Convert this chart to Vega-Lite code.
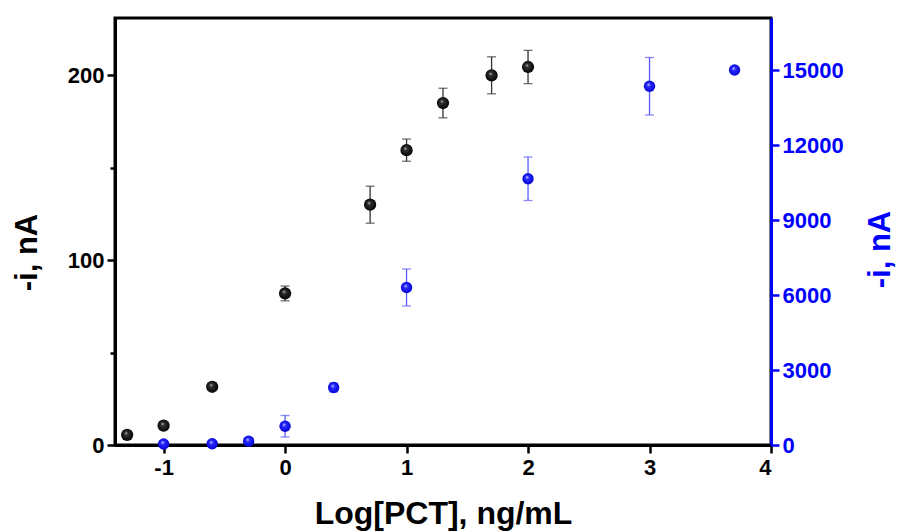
{
  "$schema": "https://vega.github.io/schema/vega-lite/v6.json",
  "width": 656,
  "height": 427,
  "autosize": {"type": "none"},
  "padding": {"left": 115, "top": 18, "right": 127, "bottom": 86},
  "background": "white",
  "config": {
    "view": {"stroke": "black", "strokeWidth": 3},
    "font": "Liberation Sans",
    "axis": {
      "labelFont": "Liberation Sans",
      "titleFont": "Liberation Sans",
      "labelFontWeight": "bold",
      "titleFontWeight": "bold",
      "grid": false,
      "domainWidth": 3,
      "tickWidth": 2.5,
      "tickSize": 8,
      "labelFontSize": 22,
      "labelPadding": 3,
      "domainColor": "black",
      "tickColor": "black",
      "labelColor": "black",
      "titleColor": "black"
    }
  },
  "datasets": {
    "black": [
      {"x": -1.3, "i": 5.5, "lo": 5.5, "hi": 5.5},
      {"x": -1.0, "i": 10.5, "lo": 9.5, "hi": 11.5},
      {"x": -0.6, "i": 31.5, "lo": 29.5, "hi": 33.5},
      {"x": 0.0, "i": 82, "lo": 78, "hi": 86},
      {"x": 0.7, "i": 130, "lo": 120, "hi": 140},
      {"x": 1.0, "i": 159.5, "lo": 153.5, "hi": 165.5},
      {"x": 1.3, "i": 185, "lo": 177, "hi": 193},
      {"x": 1.7, "i": 200, "lo": 190, "hi": 210},
      {"x": 2.0, "i": 204.5, "lo": 195.5, "hi": 213.5}
    ],
    "blue": [
      {"x": -1.0, "i": 40, "lo": 40, "hi": 40},
      {"x": -0.6, "i": 50, "lo": 50, "hi": 50},
      {"x": -0.3, "i": 150, "lo": 150, "hi": 150},
      {"x": 0.0, "i": 750, "lo": 320, "hi": 1180},
      {"x": 0.4, "i": 2300, "lo": 2120, "hi": 2480},
      {"x": 1.0, "i": 6300, "lo": 5560, "hi": 7040},
      {"x": 2.0, "i": 10650, "lo": 9780, "hi": 11520},
      {"x": 3.0, "i": 14350, "lo": 13200, "hi": 15500},
      {"x": 3.7, "i": 15000, "lo": 15000, "hi": 15000}
    ]
  },
  "layer": [
    {
      "data": {"name": "black"},
      "encoding": {
        "x": {
          "field": "x", "type": "quantitative",
          "scale": {"domain": [-1.4, 4], "nice": false, "zero": false},
          "axis": {
            "values": [-1, 0, 1, 2, 3, 4],
            "labelExpr": "'' + datum.value",
            "title": "Log[PCT], ng/mL",
            "titleFontSize": 32,
            "titleBaseline": "middle",
            "titleX": 328,
            "titleY": 68,
            "labelPadding": 4
          }
        }
      },
      "layer": [
        {
          "mark": {"type": "rule", "color": "#333333", "strokeWidth": 1.3},
          "encoding": {
            "y": {
              "field": "lo", "type": "quantitative",
              "scale": {"domain": [0, 231], "nice": false, "zero": false},
              "axis": {
                "orient": "left",
                "values": [0, 50, 100, 150, 200],
                "labelExpr": "datum.value % 100 == 0 ? datum.label : ''",
                "tickSize": {"condition": {"test": "datum.value % 100 != 0", "value": 5}, "value": 8},
                "title": "-i, nA",
                "titleFontSize": 31,
                "titleAngle": -90,
                "titleBaseline": "middle",
                "titleX": -88,
                "titleY": 234
              }
            },
            "y2": {"field": "hi"}
          }
        },
        {
          "mark": {"type": "tick", "orient": "horizontal", "color": "#333333", "size": 9, "thickness": 1.3},
          "encoding": {"y": {"field": "lo", "type": "quantitative"}}
        },
        {
          "mark": {"type": "tick", "orient": "horizontal", "color": "#333333", "size": 9, "thickness": 1.3},
          "encoding": {"y": {"field": "hi", "type": "quantitative"}}
        },
        {
          "mark": {
            "type": "point", "filled": true, "size": 150, "opacity": 1,
            "color": {
              "gradient": "radial",
              "x1": 0.4, "y1": 0.35, "r1": 0,
              "x2": 0.5, "y2": 0.5, "r2": 0.55,
              "stops": [
                {"offset": 0, "color": "#d0d0d0"},
                {"offset": 0.25, "color": "#303030"},
                {"offset": 1, "color": "#000000"}
              ]
            }
          },
          "encoding": {"y": {"field": "i", "type": "quantitative"}}
        }
      ]
    },
    {
      "data": {"name": "blue"},
      "encoding": {
        "x": {"field": "x", "type": "quantitative"}
      },
      "layer": [
        {
          "mark": {"type": "rule", "color": "#5a5aff", "strokeWidth": 1.3},
          "encoding": {
            "y": {
              "field": "lo", "type": "quantitative",
              "scale": {"domain": [0, 17080], "nice": false, "zero": false},
              "axis": {
                "orient": "right",
                "values": [0, 3000, 6000, 9000, 12000, 15000],
                "format": "d",
                "domainColor": "#0000ff",
                "tickColor": "#0000ff",
                "labelColor": "#0000ff",
                "titleColor": "#0000ff",
                "title": "-i, nA",
                "titleFontSize": 31,
                "titleAngle": -90,
                "titleBaseline": "middle",
                "titleX": 109,
                "titleY": 231
              }
            },
            "y2": {"field": "hi"}
          }
        },
        {
          "mark": {"type": "tick", "orient": "horizontal", "color": "#5a5aff", "size": 9, "thickness": 1.3},
          "encoding": {"y": {"field": "lo", "type": "quantitative"}}
        },
        {
          "mark": {"type": "tick", "orient": "horizontal", "color": "#5a5aff", "size": 9, "thickness": 1.3},
          "encoding": {"y": {"field": "hi", "type": "quantitative"}}
        },
        {
          "mark": {
            "type": "point", "filled": true, "size": 130, "opacity": 1,
            "color": {
              "gradient": "radial",
              "x1": 0.4, "y1": 0.35, "r1": 0,
              "x2": 0.5, "y2": 0.5, "r2": 0.55,
              "stops": [
                {"offset": 0, "color": "#e0e0ff"},
                {"offset": 0.3, "color": "#2a2aff"},
                {"offset": 1, "color": "#0000d0"}
              ]
            }
          },
          "encoding": {"y": {"field": "i", "type": "quantitative"}}
        }
      ]
    }
  ],
  "resolve": {"scale": {"y": "independent"}}
}
